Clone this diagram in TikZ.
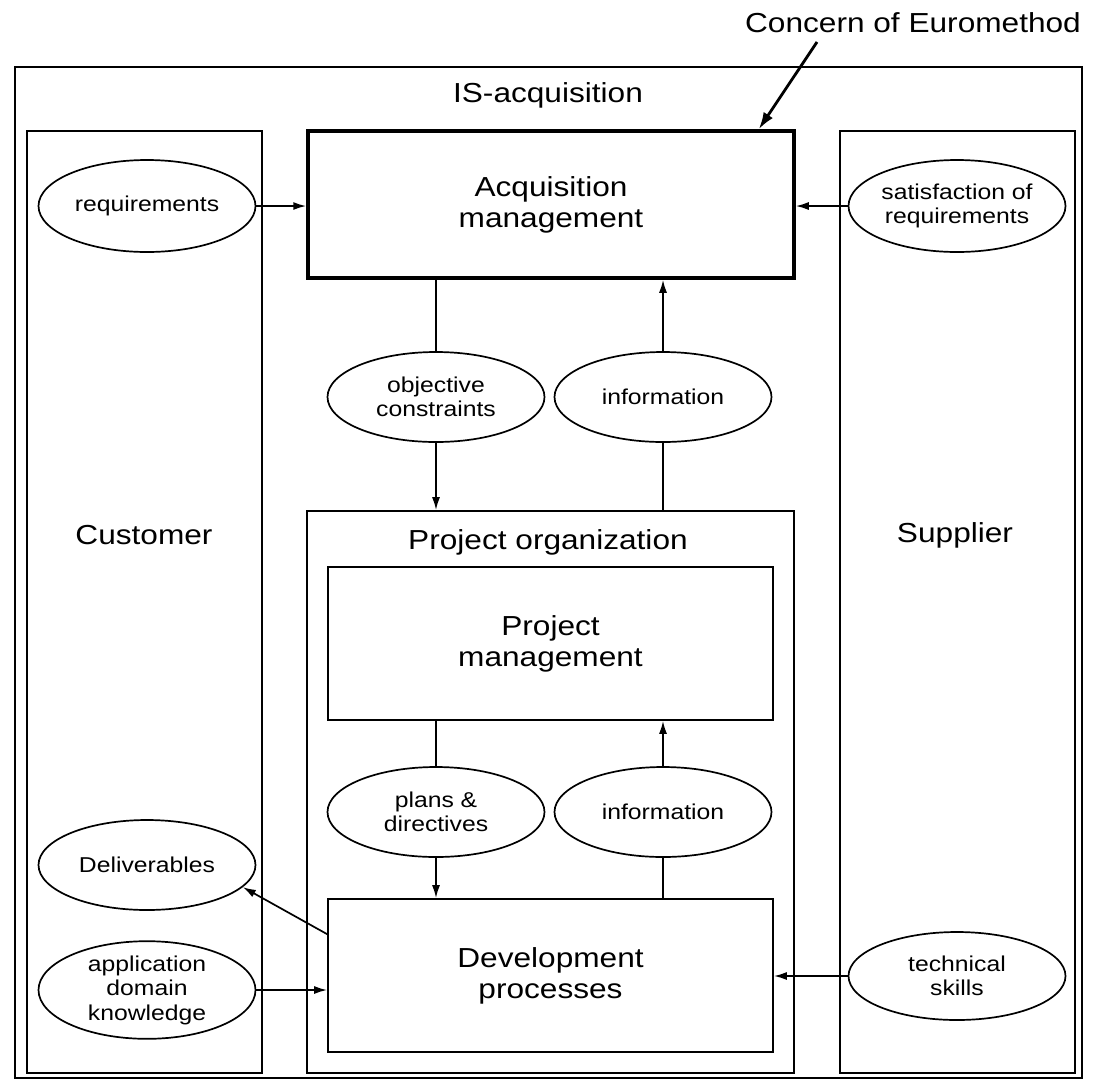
\documentclass[tikz,border=0pt]{standalone}
\usepackage{fontspec}
\setmainfont[FakeStretch=1.15]{Liberation Sans}
\usetikzlibrary{shapes.geometric,arrows.meta,calc}
\begin{document}
\begin{tikzpicture}[x=1pt,y=-1pt,
  frame/.style={draw, line width=1.7pt, rectangle, inner sep=0pt},
  bigtext/.style={font=\fontsize{27.5}{31}\selectfont, align=center},
  smalltext/.style={font=\fontsize{21.5}{24.5}\selectfont, align=center},
  oval/.style={draw, line width=1.7pt, ellipse, inner sep=0pt, minimum width=217pt, minimum height=91pt, smalltext},
  arr/.style={line width=1.7pt, -{Latex[length=13pt,width=8pt]}},
  plain/.style={line width=1.7pt}]
\useasboundingbox (0,0) rectangle (1094,1080);
% containers
\node[frame, minimum width=1067pt, minimum height=1011pt] (outer) at (548.5,572.5) {};
\node[frame, minimum width=235pt, minimum height=942pt] (cust) at (144.5,602) {};
\node[frame, minimum width=235pt, minimum height=942pt] (supp) at (957.5,602) {};
\node[frame, minimum width=487pt, minimum height=562pt] (porg) at (550.5,792) {};
% main boxes
\node[frame, line width=3.5pt, minimum width=486pt, minimum height=147pt, bigtext] (acq) at (551,204.5) {Acquisition\\management};
\node[frame, minimum width=445pt, minimum height=153pt, bigtext] (pm) at (550.5,643.5) {Project\\management};
\node[frame, minimum width=445pt, minimum height=153pt, bigtext] (dev) at (550.5,975.5) {Development\\processes};
% labels
\node[bigtext] (conc) at (913,23) {Concern of Euromethod};
\node[bigtext] (isacq) at (548,95) {IS-acquisition};
\node[bigtext] (custl) at (144,535) {Customer};
\node[bigtext] (suppl) at (955,535) {Supplier};
\node[bigtext] (porgl) at (548,542) {Project organization};
% ellipses
\node[oval, minimum height=92pt] (req) at (147,206) {requirements};
\node[oval, minimum height=92pt] (sat) at (957,206) {satisfaction of\\requirements};
\node[oval, minimum height=90pt] (obj) at (436,397) {objective\\constraints};
\node[oval, minimum height=90pt] (info1) at (663,397) {information};
\node[oval, minimum height=90pt] (plans) at (436,812) {plans \&\\directives};
\node[oval, minimum height=90pt] (info2) at (663,812) {information};
\node[oval, minimum height=90pt] (deliv) at (147,865) {Deliverables};
\node[oval, minimum height=95pt] (adk) at (147,990) {application\\domain\\knowledge};
\node[oval, minimum height=88pt] (tech) at (957,976) {technical\\skills};
% connectors
\draw[arr] (req.east) -- (req.east -| acq.west);
\draw[arr] (sat.west) -- (sat.west -| acq.east);
\draw[plain] (obj.north |- acq.south) -- (obj.north);
\draw[arr] (obj.south) -- (obj.south |- porg.north);
\draw[plain] (info1.south |- porg.north) -- (info1.south);
\draw[arr] (info1.north) -- (info1.north |- acq.south);
\draw[plain] (plans.north |- pm.south) -- (plans.north);
\draw[arr] (plans.south) -- (plans.south |- dev.north);
\draw[plain] (info2.south |- dev.north) -- (info2.south);
\draw[arr] (info2.north) -- (info2.north |- pm.south);
\coordinate (devout) at ($(dev.north west)+(0,36)$);
\draw[arr] (devout) -- (deliv.-13);
\draw[arr] (adk.east) -- (adk.east -| dev.west);
\draw[arr] (tech.west) -- (tech.west -| dev.east);
\coordinate (concfoot) at (817,42);
\draw[line width=2.8pt, -{Latex[length=17pt,width=11pt]}] (concfoot) -- ($(acq.north east)+(-37,0)$);
\end{tikzpicture}
\end{document}
